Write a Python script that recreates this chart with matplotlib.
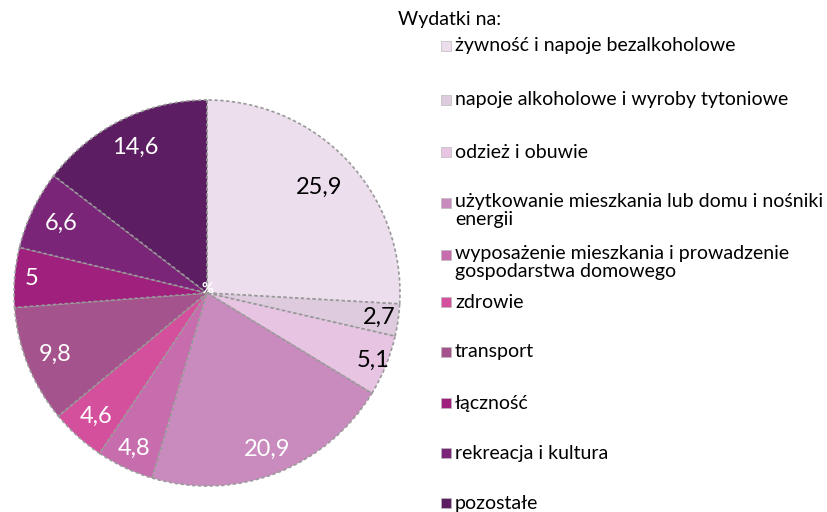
import matplotlib
matplotlib.use("Agg")
import matplotlib.pyplot as plt
from matplotlib.patches import Rectangle
import numpy as np

categories = [
    "żywność i napoje bezalkoholowe",
    "napoje alkoholowe i wyroby tytoniowe",
    "odzież i obuwie",
    "użytkowanie mieszkania lub domu i nośniki\nenergii",
    "wyposażenie mieszkania i prowadzenie\ngospodarstwa domowego",
    "zdrowie",
    "transport",
    "łączność",
    "rekreacja i kultura",
    "pozostałe",
]
values = [25.9, 2.7, 5.1, 20.9, 4.8, 4.6, 9.8, 5.0, 6.6, 14.6]
value_labels = ["25,9", "2,7", "5,1", "20,9", "4,8", "4,6", "9,8", "5", "6,6", "14,6"]
legend_title = "Wydatki na:"
center_label = "%"

colors = ["#EDDEED", "#DECCDE", "#E6C4E2", "#C98BBE", "#C76DAE",
          "#D4509C", "#A5538C", "#A0207E", "#7B2579", "#5C1D63"]
text_colors = ["black", "black", "black", "white", "white",
               "white", "white", "white", "white", "white"]
label_radius = [0.80, 0.90, 0.93, 0.87, 0.89, 0.86, 0.85, 0.91, 0.84, 0.84]

FONT = ["Lato", "DejaVu Sans"]
plt.rcParams["font.family"] = FONT

W, H = 828, 512
fig = plt.figure(figsize=(W / 100, H / 100), dpi=100)
fig.patch.set_facecolor("white")

cx, cy, r = 207, 293, 193
ax = fig.add_axes([(cx - r) / W, (H - cy - r) / H, 2 * r / W, 2 * r / H])
wedges, _ = ax.pie(values, colors=colors, startangle=90, counterclock=False,
                   wedgeprops=dict(edgecolor="#9a9a9a", linewidth=1.2, linestyle=(0, (2, 1.5))))
ax.set_xlim(-1, 1)
ax.set_ylim(-1, 1)
ax.set_aspect("equal")
ax.axis("off")

for w, lab, tc, lr in zip(wedges, value_labels, text_colors, label_radius):
    ang = np.deg2rad((w.theta1 + w.theta2) / 2)
    ax.text(lr * np.cos(ang), lr * np.sin(ang), lab, ha="center", va="center",
            fontsize=17, color=tc)

ax.text(0, 0.02, center_label, ha="center", va="center", fontsize=10.5,
        color="white", fontweight="bold")

# legend
fig.text(398 / W, 1 - 19 / H, legend_title, ha="left", va="center", fontsize=14)
ys = [46, 100, 152, 203, 255, 302, 352, 403, 453, 503]
for i, (cat, col) in enumerate(zip(categories, colors)):
    y = ys[i]
    fig.patches.append(Rectangle((441 / W, 1 - (y + 5) / H), 10 / W, 10 / H,
                                 transform=fig.transFigure, facecolor=col,
                                 edgecolor="#bbbbbb", linewidth=0.5))
    if "\n" in cat:
        fig.text(455 / W, 1 - (y - 10) / H, cat, ha="left", va="top",
                 fontsize=14, linespacing=1.05)
    else:
        fig.text(455 / W, 1 - y / H, cat, ha="left", va="center", fontsize=14)

fig.savefig("out.png", dpi=100)
